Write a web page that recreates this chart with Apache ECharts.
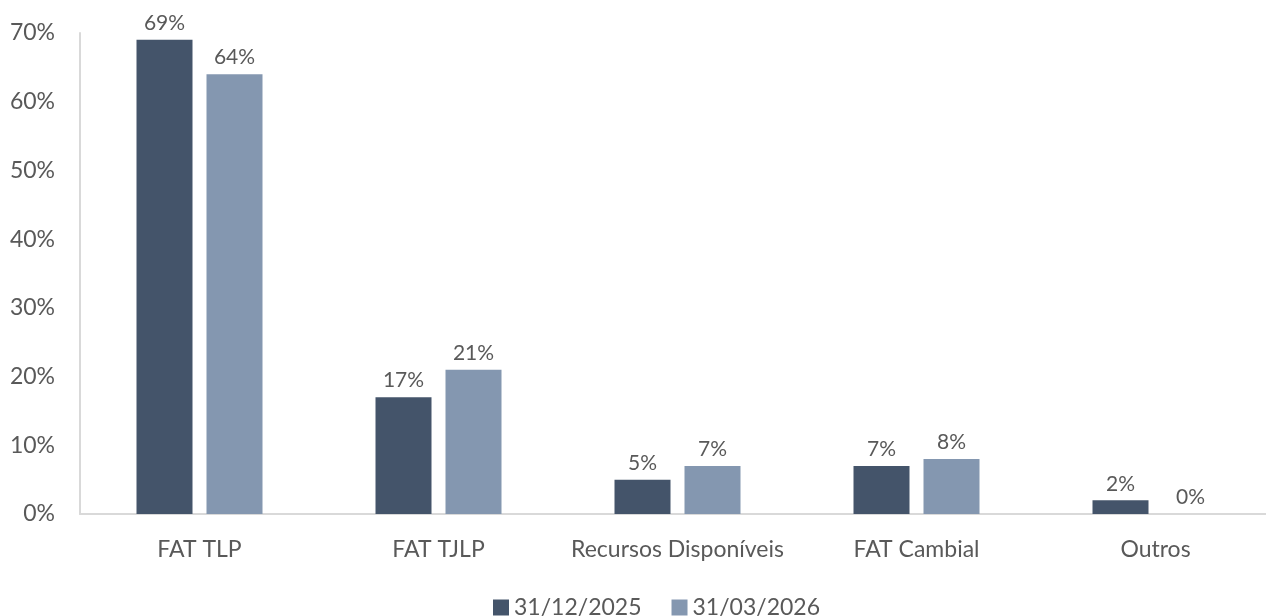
<!DOCTYPE html>
<html>
<head>
<meta charset="utf-8">
<script src="https://cdn.jsdelivr.net/npm/echarts@6/dist/echarts.min.js"></script>
<style>
  html, body { margin: 0; padding: 0; background: #fff; }
  #chart { width: 1266px; height: 616px; }
</style>
</head>
<body>
<div id="chart"></div>
<script>
const categories = ['FAT TLP', 'FAT TJLP', 'Recursos Disponíveis', 'FAT Cambial', 'Outros']
const seriesNames = ['31/12/2025', '31/03/2026']
const dec2025 = [69, 17, 5, 7, 2]
const mar2026 = [64, 21, 7, 8, 0]
const colors = ['#44546A', '#8497B0']
const textColor = '#595959'
const font = 'Lato'

const chart = echarts.init(document.getElementById('chart'))

// rótulo de cada barra
const barLabel = {
  show: true,
  position: 'top',
  distance: 6,
  color: textColor,
  fontFamily: font,
  fontSize: 21,
  formatter: p => p.value + '%'
}

chart.setOption({
  animation: false,
  color: colors,
  // a última categoria passa um pouco da borda, como no original
  grid: { left: 80, right: -9, top: 33, bottom: 102, outerBoundsMode: 'none' },
  legend: {
    top: 591,
    left: 488,
    itemWidth: 16,
    itemHeight: 16,
    itemGap: 30,
    icon: 'rect',
    textStyle: { color: textColor, fontFamily: font, fontSize: 23 },
    data: seriesNames
  },
  xAxis: {
    type: 'category',
    data: categories,
    axisLine: { lineStyle: { color: '#d9d9d9', width: 2 } },
    axisTick: { show: false },
    axisLabel: { interval: 0, color: textColor, fontFamily: font, fontSize: 23, margin: 24 }
  },
  yAxis: {
    type: 'value',
    min: 0,
    max: 70,
    interval: 10,
    axisLine: { show: true, lineStyle: { color: '#d9d9d9', width: 2 } },
    splitLine: { show: false },
    axisLabel: {
      color: textColor, fontFamily: font, fontSize: 23, margin: 25,
      formatter: v => v + '%'
    }
  },
  series: [
    {
      name: seriesNames[0],
      type: 'bar',
      data: dec2025,
      barWidth: 56,
      barGap: '25%',
      label: barLabel
    },
    {
      name: seriesNames[1],
      type: 'bar',
      data: mar2026,
      barWidth: 56,
      barGap: '25%',
      label: barLabel
    }
  ]
})
</script>
</body>
</html>
